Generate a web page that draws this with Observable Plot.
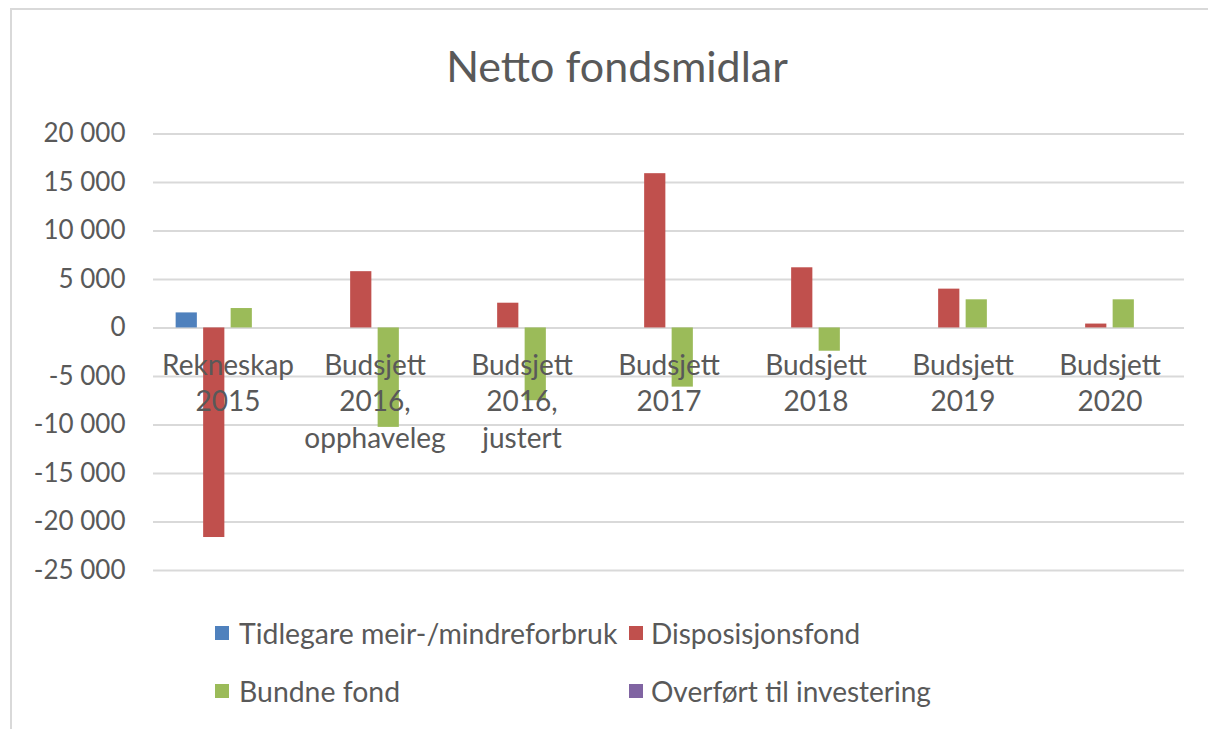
<!DOCTYPE html>
<html>
<head>
<meta charset="utf-8">
<script src="https://cdn.jsdelivr.net/npm/d3@7"></script>
<script src="https://cdn.jsdelivr.net/npm/@observablehq/plot@0.6"></script>
<style>
  html, body { margin: 0; padding: 0; background: #fff; overflow: hidden; }
  #page { position: relative; width: 1208px; height: 729px; overflow: hidden; font-family: Lato, "Open Sans", sans-serif; color: #595959; }
  #frame { position: absolute; left: 10px; top: 8px; width: 1230px; height: 760px; border: 2px solid #d9d9d9; box-sizing: border-box; }
  #title { position: absolute; left: 10px; width: 1214px; top: 43px; text-align: center; font-size: 43px; line-height: 46px; color: #595959; }
  #chart { position: absolute; left: 0; top: 100px; }
  #legend { position: absolute; left: 215px; top: 615px; display: grid; grid-template-columns: 414px auto; row-gap: 22px; font-size: 28.4px; line-height: 36px; }
  .item { display: flex; align-items: center; white-space: nowrap; }
  .sw { width: 14px; height: 14px; margin-right: 10px; flex: none; }
  .item.c2 .sw { margin-right: 8px; }
  .item.c2 span:last-child { font-size: 28px; }
</style>
</head>
<body>
<div id="page">
  <div id="frame"></div>
  <div id="title"></div>
  <div id="chart"></div>
  <div id="legend"></div>
</div>
<script>
// ---- data ----
const title = "Netto fondsmidlar";
const categories = ["Rekneskap\n2015", "Budsjett\n2016,\nopphaveleg", "Budsjett\n2016,\njustert", "Budsjett\n2017", "Budsjett\n2018", "Budsjett\n2019", "Budsjett\n2020"];
const seriesNames = ["Tidlegare meir-/mindreforbruk", "Disposisjonsfond", "Bundne fond", "Overført til investering"];
const tidlegare = [1550, 0, 0, 0, 0, 0, 0];
const disposisjonsfond = [-21600, 5800, 2550, 15900, 6200, 4000, 400];
const bundneFond = [2000, -10250, -7500, -6100, -2400, 2900, 2900];
const overfort = [0, 0, 0, 0, 0, 0, 0];
const yTicks = [20000, 15000, 10000, 5000, 0, -5000, -10000, -15000, -20000, -25000];
const colors = ["#4f81bd", "#c0504d", "#9bbb59", "#8064a2"];

// ---- layout / style ----
const W = 1208, H = 500;
const mL = 153, mR = 24, mT = 33.4, mB = 30;
const bw = (W - mL - mR) / categories.length;
const barStep = 27.5, barWidth = 21.5;
const groupW = barStep * seriesNames.length;

const values = [tidlegare, disposisjonsfond, bundneFond, overfort];
const rows = [];
values.forEach((arr, k) => arr.forEach((v, i) => rows.push({category: categories[i], series: seriesNames[k], k, value: v})));

const locale = d3.formatLocale({decimal: ",", thousands: "\u00a0", grouping: [3], currency: ["", ""], minus: "-"});
const fmt = locale.format(",d");

const barMarks = seriesNames.map((s, k) => {
  const left = (bw - groupW) / 2 + k * barStep + (barStep - barWidth) / 2;
  return Plot.barY(rows.filter(r => r.k === k && r.value !== 0), {
    x: "category", y: "value", fill: colors[k],
    insetLeft: left, insetRight: bw - left - barWidth
  });
});

const chart = Plot.plot({
  width: W, height: H,
  marginLeft: mL, marginRight: mR, marginTop: mT, marginBottom: mB,
  style: {fontFamily: "Lato, 'Open Sans', sans-serif", color: "#595959", background: "transparent"},
  x: {type: "band", domain: categories, padding: 0, axis: null},
  y: {domain: [-25000, 20000], axis: null},
  marks: [
    Plot.ruleY(yTicks, {stroke: "#d9d9d9", strokeWidth: 2}),
    ...barMarks,
    Plot.axisY(yTicks, {tickSize: 0, tickPadding: 28, tickFormat: fmt, fontSize: 26, fill: "#595959", label: null}),
    Plot.text(categories, {x: d => d, y: d => 0, text: d => d, lineAnchor: "top", dy: 21, lineHeight: 1.3, fontSize: 28, fill: "#595959"})
  ]
});
document.getElementById("chart").appendChild(chart);

document.getElementById("title").textContent = title;
const legend = document.getElementById("legend");
seriesNames.forEach((s, k) => {
  const it = document.createElement("div");
  it.className = "item" + (k % 2 === 1 ? " c2" : "");
  const sw = document.createElement("span");
  sw.className = "sw"; sw.style.background = colors[k];
  const t = document.createElement("span");
  t.textContent = s;
  it.appendChild(sw); it.appendChild(t);
  legend.appendChild(it);
});
</script>
</body>
</html>
